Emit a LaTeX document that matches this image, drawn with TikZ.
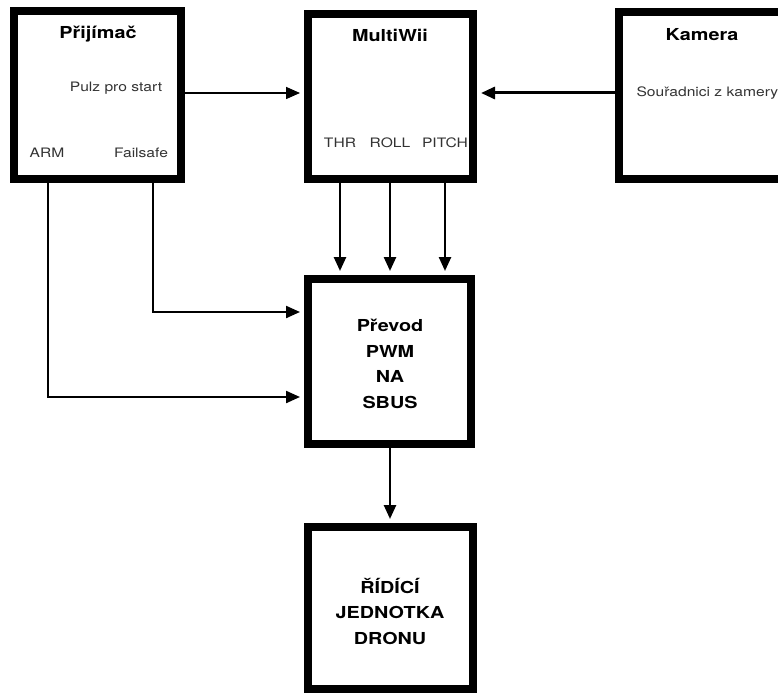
\documentclass[tikz,border=0pt]{standalone}
\usepackage{fontspec}
\setmainfont{TeX Gyre Heros}
\newfontfamily\blockfont[FakeStretch=1.2]{TeX Gyre Heros}
\usetikzlibrary{arrows.meta,positioning}

\begin{document}
\begin{tikzpicture}[
    x=1pt, y=-1pt,
    block/.style={rectangle, draw=black, line width=8pt, fill=white, inner sep=0pt},
    titletext/.style={font=\blockfont\bfseries\fontsize{16.5}{20}\selectfont},
    bigtext/.style={font=\blockfont\bfseries\fontsize{16.5}{25.5}\selectfont, align=center},
    porttext/.style={font=\blockfont\fontsize{13}{15}\selectfont, text=black!80},
    arrow/.style={-{Triangle[length=14pt, width=12pt]}, line width=2.2pt, shorten >=4pt}
]
\useasboundingbox (0,0) rectangle (778,695);

% blocks
\node[block, minimum width=167pt, minimum height=168pt] (prijimac) at (97.5,95) {};
\node[block, minimum width=165pt, minimum height=165pt] (multiwii) at (390.5,96.5) {};
\node[block, minimum width=167pt, minimum height=167pt] (kamera) at (702.5,95.5) {};
\node[block, minimum width=163pt, minimum height=165pt] (prevod) at (389.5,361.5) {};
\node[block, minimum width=165pt, minimum height=162pt] (ridici) at (390.5,608) {};

% texts inside the blocks
\node[titletext] (prijimac_title) at (98,34) {Přijímač};
\node[porttext] (pulz) at (116,88) {Pulz pro start};
\node[porttext] (arm) at (47,153) {ARM};
\node[porttext] (failsafe) at (141,153) {Failsafe};

\node[titletext] (multiwii_title) at (390,35) {MultiWii};
\node[porttext] (thr) at (340,143) {THR};
\node[porttext] (roll) at (390,143) {ROLL};
\node[porttext] (pitch) at (445,143) {PITCH};

\node[titletext] (kamera_title) at (702,35) {Kamera};
\node[porttext, anchor=west] (souradnice) at (633,93) {Souřadnici z kamery};

\node[bigtext] (prevod_text) at (390,364) {Převod\\PWM\\NA\\SBUS};
\node[bigtext] (ridici_text) at (390,611) {ŘÍDÍCÍ\\JEDNOTKA\\DRONU};

% connectors
\coordinate (fs_in) at ([yshift=49.5pt]prevod.west);
\coordinate (arm_in) at ([yshift=-35.5pt]prevod.west);

\draw[arrow, line width=1.6pt] (prijimac.east |- 0,93) -- (multiwii.west |- 0,93);
\draw[arrow, line width=3pt] (kamera.west |- 0,93) -- (multiwii.east |- 0,93);

\draw[arrow, line width=2.5pt] (thr |- multiwii.south) -- (thr |- prevod.north);
\draw[arrow, line width=2.5pt] (roll |- multiwii.south) -- (roll |- prevod.north);
\draw[arrow, line width=2.5pt] (pitch |- multiwii.south) -- (pitch |- prevod.north);

\draw[arrow] (prijimac.south -| 153,0) |- (fs_in);
\draw[arrow] (prijimac.south -| 48,0) |- (arm_in);

\draw[arrow, line width=2.5pt] (prevod.south -| 390,0) -- (ridici.north -| 390,0);
\end{tikzpicture}
\end{document}
